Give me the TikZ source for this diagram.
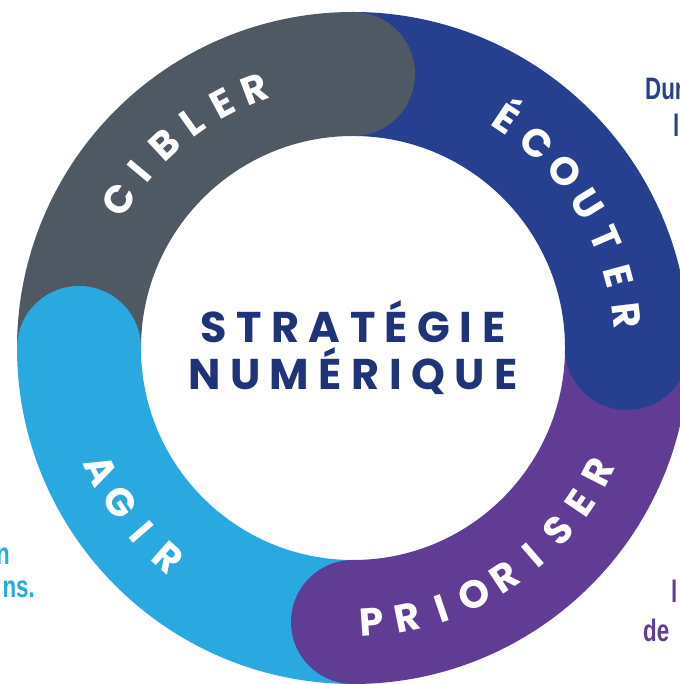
\documentclass[tikz,border=0pt]{standalone}
\usepackage{fontspec}
\usetikzlibrary{calc}
\newfontfamily\ringfont{Poppins}[LetterSpace=0]
\newfontfamily\titlefont{Poppins}[LetterSpace=22]
\newfontfamily\sidefont{Liberation Sans}[FakeStretch=0.72]
\definecolor{col1}{RGB}{79,89,99}
\definecolor{col2}{RGB}{38,64,143}
\definecolor{col3}{RGB}{96,60,148}
\definecolor{col4}{RGB}{41,169,224}
\definecolor{colt}{RGB}{31,51,120}
\tikzset{
  ringtxt/.style={text=white, inner sep=0pt, text height=27pt, text depth=0pt,
    font=\ringfont\bfseries\fontsize{39}{39}\selectfont},
  sidetxt/.style={inner sep=0pt, font=\sidefont\bfseries\fontsize{31}{38}\selectfont}
}
\begin{document}
\begin{tikzpicture}[x=1pt, y=1pt]
        \useasboundingbox (0,0) rectangle (679,684);
        \coordinate (origin) at (353, 336);

        % the four bands
        \draw [col1, line width=124pt] ($(origin) + (180:274)$) arc [start angle=180, end angle=90, radius=274];
        \draw [col2, line width=124pt] ($(origin) + (90:274)$) arc [start angle=90, end angle=0, radius=274];
        \draw [col3, line width=124pt] ($(origin) + (0:274)$) arc [start angle=0, end angle=-90, radius=274];
        \draw [col4, line width=124pt] ($(origin) + (-90:274)$) arc [start angle=-90, end angle=-180, radius=274];

        % round ends
        \fill [col1] ($(origin) + (90:274)$) circle [radius=62];
        \fill [col2] ($(origin) + (0:274)$) circle [radius=62];
        \fill [col3] ($(origin) + (-90:274)$) circle [radius=62];
        \fill [col4] ($(origin) + (180:274)$) circle [radius=62];

        \foreach \l [count=\i, evaluate=\i as \a using 147.7-7.4*(\i-1)] in {C,I,B,L,E,R}
            { \node (cib\i) [ringtxt, rotate=\a-90] at ($(origin) + (\a:277)$) {\l}; }
        \foreach \l [count=\i, evaluate=\i as \a using 56.3-8.25*(\i-1)] in {É,C,O,U,T,E,R}
            { \node (ecou\i) [ringtxt, rotate=\a-90] at ($(origin) + (\a:275)$) {\l}; }
        \foreach \l [count=\i, evaluate=\i as \a using -86.1+7.4*(\i-1)] in {P,R,I,O,R,I,S,E,R}
            { \node (prio\i) [ringtxt, rotate=\a+90] at ($(origin) + (\a:275)$) {\l}; }
        \foreach \l [count=\i, evaluate=\i as \a using 206+7.5*(\i-1)] in {A,G,I,R}
            { \node (agir\i) [ringtxt, rotate=\a+90] at ($(origin) + (\a:280)$) {\l}; }

        \node (strat) [anchor=base, colt, inner sep=0pt, font=\titlefont\bfseries\fontsize{43}{47}\selectfont]
            at ($(origin) + (0, 5)$) {STRATÉGIE};
        \node (num) [anchor=base, colt, inner sep=0pt, font=\titlefont\bfseries\fontsize{43}{47}\selectfont]
            at ($(origin) + (0, -42)$) {NUMÉRIQUE};

        % cut off side texts
        \node (dur) [sidetxt, col2, anchor=base west] at (645, 584) {Dur};
        \node (durl) [sidetxt, col2, anchor=base west] at (673, 547) {l};
        \node (agn) [sidetxt, col4, anchor=base east] at (10, 119) {n};
        \node (agns) [sidetxt, col4, anchor=base east] at (35, 86) {ns.};
        \node (priol) [sidetxt, col3, anchor=base west] at (671, 81) {l};
        \node (priode) [sidetxt, col3, anchor=base west] at (643, 42) {de};
      \end{tikzpicture}
\end{document}
